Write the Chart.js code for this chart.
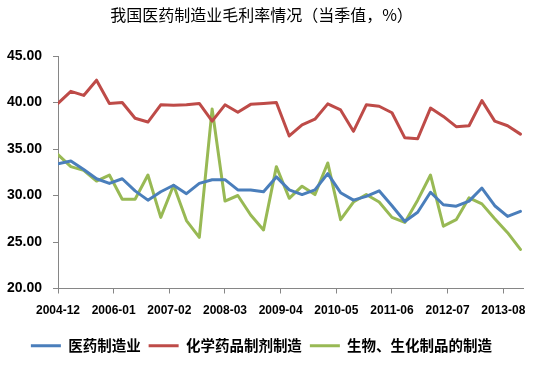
<!DOCTYPE html>
<html>
<head>
<meta charset="utf-8">
<script src="https://cdn.jsdelivr.net/npm/chart.js@4/dist/chart.umd.min.js"></script>
<style>
html,body{margin:0;padding:0;background:#fff;}
#wrap{width:536px;height:368px;position:relative;}
</style>
</head>
<body>
<div id="wrap"><canvas id="c" width="536" height="368"></canvas></div>
<script>
const periods = ['2004-12','2005-03','2005-06','2005-09','2005-12','2006-03','2006-06','2006-09','2006-12',
  '2007-03','2007-06','2007-09','2007-12','2008-03','2008-06','2008-09','2008-12',
  '2009-03','2009-06','2009-09','2009-12','2010-03','2010-06','2010-09','2010-12',
  '2011-03','2011-06','2011-09','2011-12','2012-03','2012-06','2012-09','2012-12',
  '2013-03','2013-06','2013-09','2013-12'];
const pharma = [33.4,33.7,32.8,31.8,31.3,31.8,30.5,29.5,30.4,31.1,30.2,31.3,31.7,31.7,30.6,30.6,30.4,32.0,30.6,30.1,30.6,32.35,30.3,29.5,29.9,30.5,28.9,27.2,28.2,30.35,29.0,28.85,29.4,30.8,28.9,27.75,28.3];
const chemical = [39.9,41.2,40.76,42.4,39.9,40.0,38.3,37.9,39.75,39.7,39.75,39.9,38.0,39.75,38.95,39.8,39.9,40.0,36.4,37.6,38.2,39.85,39.2,36.9,39.75,39.6,38.9,36.2,36.1,39.4,38.5,37.4,37.5,40.2,38.0,37.5,36.6];
const bio = [34.4,33.1,32.7,31.55,32.2,29.6,29.6,32.2,27.65,31.1,27.3,25.5,39.3,29.4,30.0,27.9,26.3,33.1,29.7,31.0,30.1,33.5,27.4,29.3,30.1,29.3,27.65,27.1,29.5,32.2,26.7,27.4,29.75,29.1,27.5,26.0,24.2];
const seriesNames = ['医药制造业','化学药品制剂制造','生物、生化制品的制造'];
const tickLabels = ['2004-12','2006-01','2007-02','2008-03','2009-04','2010-05','2011-06','2012-07','2013-08'];
const yTicks = [20,25,30,35,40,45];

function monthIndex(s){ const [y,m] = s.split('-').map(Number); return (y-2004)*12 + (m-12); }
const tickVals = tickLabels.map(monthIndex);
const toPts = arr => arr.map((v,i)=>({x: monthIndex(periods[i]), y: v}));

const colors = ['#4a7ebb','#be4b48','#98b954'];
const axisColor = '#868686';
const cjk = '"Noto Sans CJK SC", "Noto Sans", sans-serif';

new Chart(document.getElementById('c'), {
  type: 'line',
  data: {
    datasets: [pharma, chemical, bio].map((arr,k)=>({
      label: seriesNames[k],
      data: toPts(arr),
      borderColor: colors[k],
      backgroundColor: colors[k],
      borderWidth: 3,
      pointRadius: 0,
      tension: 0,
      borderJoinStyle: 'round',
      borderCapStyle: 'round'
    }))
  },
  options: {
    responsive: false,
    animation: false,
    layout: { padding: { left: 0, right: 13, top: 0, bottom: 5 } },
    plugins: {
      title: {
        display: true,
        text: '我国医药制造业毛利率情况（当季值，%）',
        color: '#000',
        font: { family: cjk, size: 16, weight: 'normal' },
        padding: { top: 5, bottom: 31.8 }
      },
      legend: {
        position: 'bottom',
        labels: {
          color: '#000',
          font: { family: cjk, size: 14.5, weight: 'bold' },
          usePointStyle: true,
          pointStyle: 'line',
          pointStyleWidth: 30,
          padding: 8
        }
      },
      tooltip: { enabled: false }
    },
    scales: {
      x: {
        type: 'linear',
        min: 0,
        max: 108.6,
        afterBuildTicks: s => { s.ticks = tickVals.map(v=>({value: v})); },
        afterFit: s => { s.height = 42; },
        ticks: {
          autoSkip: false, maxRotation: 0, padding: 10,
          color: '#000',
          font: { family: '"Liberation Sans", Arial, sans-serif', size: 12, weight: 'bold' },
          callback: v => tickLabels[tickVals.indexOf(v)]
        },
        grid: { drawOnChartArea: false, drawTicks: true, tickLength: 5, color: axisColor },
        border: { color: axisColor, width: 1 }
      },
      y: {
        min: 20, max: 45,
        afterBuildTicks: s => { s.ticks = yTicks.map(v=>({value: v})); },
        afterFit: s => { s.width = 58; },
        ticks: {
          padding: 11,
          color: '#000',
          font: { family: '"Liberation Sans", Arial, sans-serif', size: 14, weight: 'bold' },
          callback: v => v.toFixed(2)
        },
        grid: { drawOnChartArea: false, drawTicks: true, tickLength: 5, color: axisColor },
        border: { color: axisColor, width: 1 }
      }
    }
  }
});
</script>
</body>
</html>
